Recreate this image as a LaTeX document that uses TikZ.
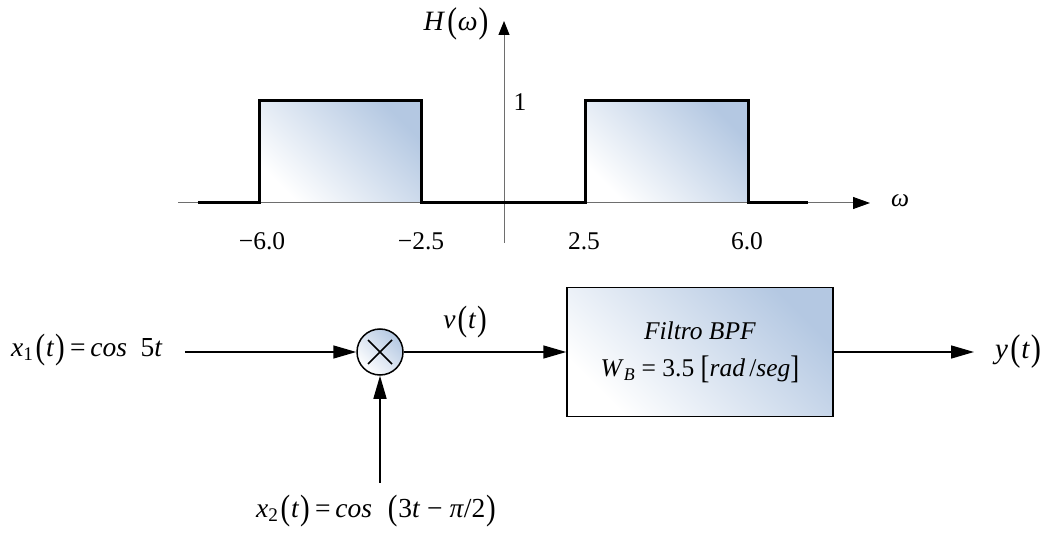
\documentclass[tikz,border=0pt]{standalone}
\usepackage{fontspec}
\usepackage{graphicx}
\setmainfont{Liberation Serif}
\usetikzlibrary{arrows.meta}
\definecolor{gradblue}{HTML}{B4C8E2}
\definecolor{axisgray}{HTML}{6E6E6E}
\newcommand{\mi}[1]{\textit{#1}}
\newcommand{\bigdel}[1]{\raisebox{-0.07em}{\scalebox{1.05}[1.28]{#1}}}
\newcommand{\lp}{\hspace{0.08em}\bigdel{(}\hspace{0.03em}}
\newcommand{\rp}{\hspace{0.03em}\bigdel{)}\hspace{0.03em}}
\tikzset{
  grad/.style={top color=gradblue, bottom color=white, shading angle=-45},
  axisline/.style={draw=axisgray, line width=1pt},
  pulse/.style={draw=black, line width=3pt, line join=miter},
  sig/.style={draw=black, line width=1.5pt, -{Triangle[length=23pt,width=13pt]}},
  lbl/.style={inner sep=0pt, font=\fontsize{25.5}{30}\selectfont},
  siglbl/.style={inner sep=0pt, font=\fontsize{27.5}{32}\selectfont},
}
\begin{document}
\begin{tikzpicture}[x=1pt,y=-1pt]
\useasboundingbox (0,0) rectangle (1051,534);
% ---------- spectrum ----------
\coordinate (hstart) at (178,203);
\coordinate (hend) at (870,203);
\coordinate (vstart) at (504,243);
\coordinate (vend) at (504,21);
\shade[grad] (259,203) rectangle (421,101);
\shade[grad] (585,203) rectangle (748,101);
\draw[axisline, -{Triangle[length=17pt,width=12pt,color=black]}] (hstart) -- (hend);
\draw[axisline, -{Triangle[length=14pt,width=11pt,color=black]}] (vstart) -- (vend);
\draw[pulse] (198,203) -- (259,203) -- (259,101) -- (421,101) -- (421,203)
  -- (585,203) -- (585,101) -- (748,101) -- (748,203) -- (808,203);
\node[lbl, font=\fontsize{28}{32}\selectfont] (H) at (456,24) {\mi{H}\lp\mi{ω}\rp};
\node[lbl] (one) at (520,102) {1};
\node[lbl] (w) at (900,201) {\mi{ω}};
\node[lbl] (t1) at (262,241) {−6.0};
\node[lbl] (t2) at (421,241) {−2.5};
\node[lbl] (t3) at (584,241) {2.5};
\node[lbl] (t4) at (747,241) {6.0};
% ---------- block diagram ----------
\node[circle, draw=black, line width=1.5pt, grad, minimum size=46pt, inner sep=0pt,
  path picture={\draw[line width=1.5pt] ([shift={(-12pt,-12pt)}]path picture bounding box.center) -- ++(24pt,24pt);
                \draw[line width=1.5pt] ([shift={(-12pt,12pt)}]path picture bounding box.center) -- ++(24pt,-24pt);}]
  (mult) at (380,352) {};
\node[draw=black, line width=1.5pt, grad, minimum width=266pt, minimum height=129pt,
  align=center, inner sep=0pt, font=\fontsize{25.5}{37}\selectfont]
  (filter) at (700,352) {\mi{Filtro BPF}\\ \mi{W}\textsubscript{\mi{B}} = 3.5 \bigdel{[}\mi{rad}\,/\mi{seg}\bigdel{]}};
\node[siglbl, anchor=west] (x1) at (11,350) {\mi{x}\textsubscript{1}\lp\mi{t}\rp\,=\,\mi{cos}\ \ 5\mi{t}};
\node[siglbl] (x2) at (376,511) {\mi{x}\textsubscript{2}\lp\mi{t}\rp\,=\,\mi{cos}\ \ \lp3\mi{t} − \mi{π}/2\rp};
\node[siglbl] (v) at (465,322) {\mi{v}\lp\mi{t}\rp};
\node[siglbl, font=\fontsize{29}{33}\selectfont, anchor=west] (y) at (995,352) {\mi{y}\lp\mi{t}\rp};
\draw[sig, shorten <=22pt] (x1.east |- mult) -- (mult.west);
\draw[sig, shorten <=12pt] (mult.south |- x2.north) -- (mult.south);
\draw[sig] (mult.east) -- (filter.west |- mult.east);
\draw[sig, shorten >=21pt] (filter.east) -- (y.west);
\end{tikzpicture}
\end{document}
